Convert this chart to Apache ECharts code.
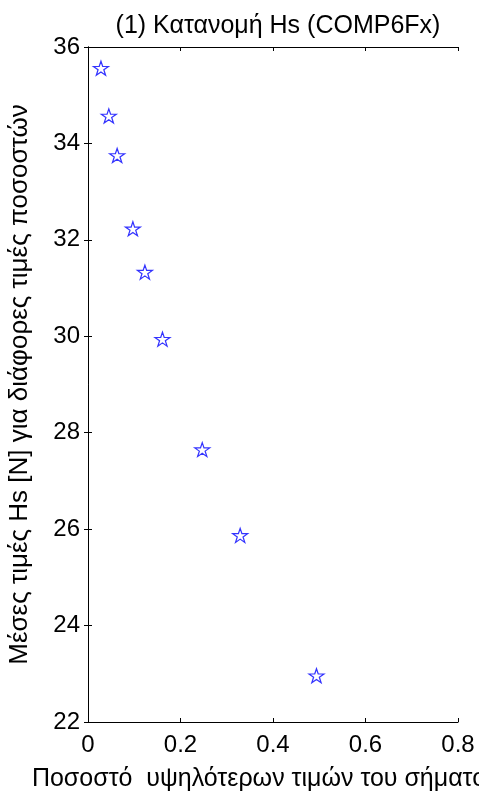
<!DOCTYPE html>
<html>
<head>
<meta charset="utf-8">
<script src="https://cdn.jsdelivr.net/npm/echarts@6/dist/echarts.min.js"></script>
<style>html,body{margin:0;padding:0;background:#fff}#c{width:479px;height:800px}</style>
</head>
<body>
<div id="c"></div>
<script>
const titleText = '(1) Κατανομή Hs (COMP6Fx)';
const xName = 'Ποσοστό  υψηλότερων τιμών του σήματος';
const yName = 'Μέσες τιμές Hs [N] για διάφορες τιμές ποσοστών';
const xValues = [0.028, 0.045, 0.063, 0.097, 0.123, 0.161, 0.247, 0.329, 0.494];
const yValues = [35.56, 34.57, 33.75, 32.23, 31.33, 29.94, 27.65, 25.87, 22.96];
const xTicks = [0, 0.2, 0.4, 0.6, 0.8];
const yTicks = [22, 24, 26, 28, 30, 32, 34, 36];

const font = 'Liberation Sans, Arial, Helvetica, sans-serif';
const star = 'path://M50,2 L61,36 L97,36 L68,57 L79,92 L50,71 L21,92 L32,57 L3,36 L39,36 Z';
const chart = echarts.init(document.getElementById('c'));
const axisLine = {show: true, lineStyle: {color: '#000', width: 1}};
const tick = {show: true, inside: true, length: 4, lineStyle: {color: '#000'}};
chart.setOption({
  animation: false,
  backgroundColor: '#fff',
  title: {text: titleText, left: 273, textAlign: 'center', top: 9,
    textStyle: {fontFamily: font, fontSize: 25, fontWeight: 'normal', color: '#000'}},
  grid: {left: 88, right: 21, top: 47, bottom: 78, containLabel: false, outerBoundsMode: 'none'},
  xAxis: [{
    type: 'value', min: xTicks[0], max: xTicks[xTicks.length - 1], interval: 0.2,
    position: 'bottom',
    name: xName, nameLocation: 'middle', nameGap: 45,
    nameTextStyle: {fontFamily: font, fontSize: 25, color: '#000', padding: [0, 16, 0, 0]},
    axisLine: axisLine, axisTick: tick, splitLine: {show: false},
    axisLabel: {fontFamily: font, fontSize: 24, color: '#000', margin: 11,
      formatter: v => String(+v.toFixed(1))}
  }, {
    type: 'value', min: xTicks[0], max: xTicks[xTicks.length - 1], interval: 0.2,
    position: 'top', axisLine: axisLine, axisTick: tick,
    axisLabel: {show: false}, splitLine: {show: false}
  }],
  yAxis: [{
    type: 'value', min: yTicks[0], max: yTicks[yTicks.length - 1], interval: 2,
    position: 'left',
    name: yName, nameLocation: 'middle', nameGap: 55,
    nameTextStyle: {fontFamily: font, fontSize: 26, color: '#000'},
    axisLine: axisLine, axisTick: tick, splitLine: {show: false},
    axisLabel: {fontFamily: font, fontSize: 24, color: '#000', margin: 8}
  }, {
    type: 'value', min: yTicks[0], max: yTicks[yTicks.length - 1], interval: 2,
    position: 'right', axisLine: axisLine, axisTick: tick,
    axisLabel: {show: false}, splitLine: {show: false}
  }],
  series: [{
    type: 'scatter',
    data: xValues.map((x, i) => [x, yValues[i]]),
    symbol: star, symbolSize: [15, 14],
    itemStyle: {color: 'rgba(0,0,0,0)', borderColor: '#0000ff', borderWidth: 1.2}
  }]
});
</script>
</body>
</html>
